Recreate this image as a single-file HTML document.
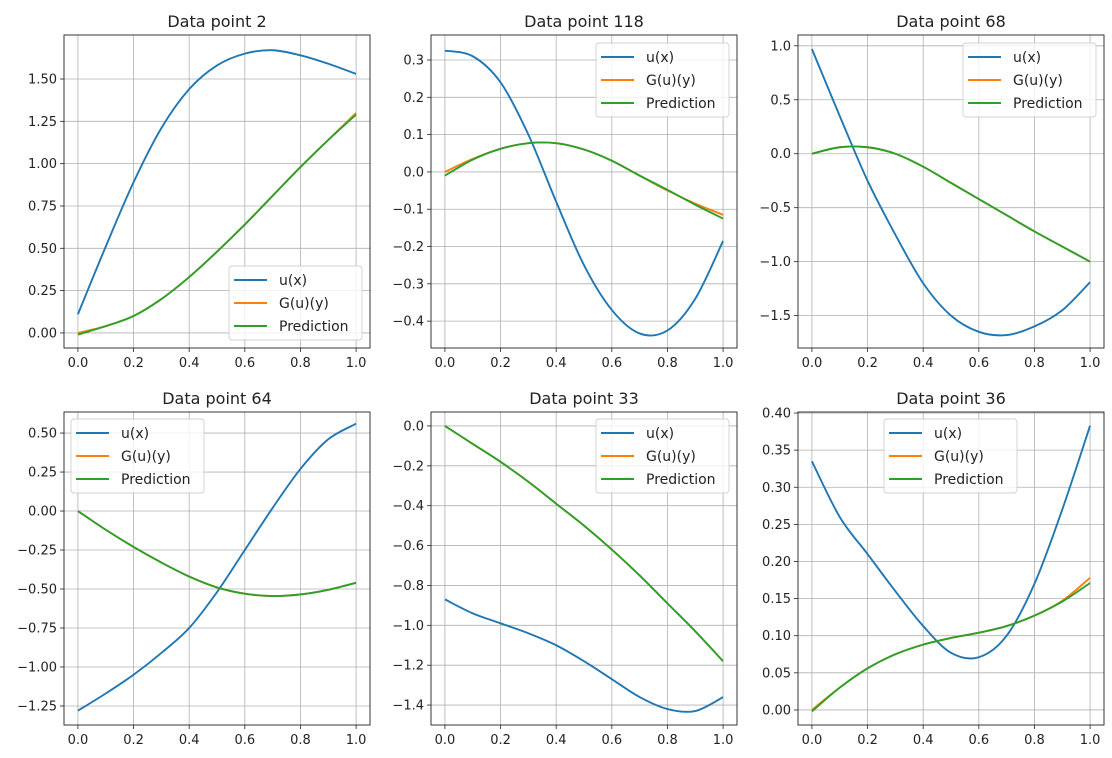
<!DOCTYPE html>
<html><head><meta charset="utf-8"><style>
html,body{margin:0;padding:0;background:#fff;}
svg{display:block;font-family:"DejaVu Sans","Liberation Sans",sans-serif;}
</style></head><body>
<svg id="fig" width="1112" height="758" viewBox="0 0 1112 758" xmlns="http://www.w3.org/2000/svg"></svg>
<script>
const xs = [0,0.1,0.2,0.3,0.4,0.5,0.6,0.7,0.8,0.9,1.0];
const titles = ["Data point 2","Data point 118","Data point 68","Data point 64","Data point 33","Data point 36"];
const uVals = [
 [0.11,0.51,0.89,1.21,1.44,1.58,1.65,1.67,1.64,1.59,1.53],
 [0.325,0.31,0.24,0.10,-0.08,-0.25,-0.37,-0.433,-0.425,-0.34,-0.185],
 [0.97,0.35,-0.25,-0.75,-1.2,-1.5,-1.65,-1.68,-1.6,-1.45,-1.19],
 [-1.28,-1.17,-1.05,-0.91,-0.75,-0.52,-0.25,0.02,0.27,0.46,0.56],
 [-0.87,-0.94,-0.99,-1.04,-1.10,-1.18,-1.27,-1.36,-1.42,-1.43,-1.36],
 [0.335,0.26,0.21,0.16,0.113,0.077,0.071,0.10,0.17,0.27,0.383]
];
const gVals = [
 [0.0,0.04,0.10,0.20,0.33,0.48,0.64,0.81,0.98,1.14,1.30],
 [0.0,0.035,0.062,0.077,0.077,0.06,0.03,-0.01,-0.05,-0.085,-0.115],
 [0.0,0.06,0.06,0.0,-0.12,-0.27,-0.42,-0.57,-0.72,-0.86,-1.0],
 [0.0,-0.12,-0.23,-0.33,-0.42,-0.49,-0.53,-0.545,-0.535,-0.505,-0.46],
 [0.0,-0.09,-0.18,-0.28,-0.39,-0.50,-0.62,-0.75,-0.89,-1.03,-1.18],
 [0.0,0.03,0.056,0.075,0.088,0.097,0.104,0.113,0.127,0.147,0.178]
];
const pVals = [
 [-0.01,0.04,0.10,0.20,0.33,0.48,0.64,0.81,0.98,1.14,1.29],
 [-0.01,0.033,0.062,0.077,0.077,0.06,0.03,-0.01,-0.048,-0.088,-0.125],
 [0.0,0.06,0.06,0.0,-0.12,-0.27,-0.42,-0.57,-0.72,-0.86,-1.0],
 [0.0,-0.12,-0.23,-0.33,-0.42,-0.49,-0.53,-0.545,-0.535,-0.505,-0.46],
 [0.0,-0.09,-0.18,-0.28,-0.39,-0.50,-0.62,-0.75,-0.89,-1.03,-1.18],
 [-0.002,0.03,0.056,0.075,0.088,0.097,0.104,0.113,0.127,0.146,0.171]
];
const yLims = [[-0.089,1.76],[-0.472,0.367],[-1.80,1.10],[-1.372,0.635],[-1.50,0.07],[-0.0203,0.4014]];
const yTicks = [
 [0,0.25,0.5,0.75,1.0,1.25,1.5],
 [-0.4,-0.3,-0.2,-0.1,0,0.1,0.2,0.3],
 [-1.5,-1.0,-0.5,0,0.5,1.0],
 [-1.25,-1.0,-0.75,-0.5,-0.25,0,0.25,0.5],
 [-1.4,-1.2,-1.0,-0.8,-0.6,-0.4,-0.2,0],
 [0,0.05,0.1,0.15,0.2,0.25,0.3,0.35,0.4]
];
const yDec = [2,1,1,2,1,2];
const xTicks = [0,0.2,0.4,0.6,0.8,1.0];
const legendPos = [[229,266],[596,43],[963,43],[71,419],[596,419],[884,419]];
const boxes = [[64,35],[431,35],[798,35],[64,412],[431,412],[798,412]];
const W = 306, H = 313;
const colors = ["#1f77b4","#ff7f0e","#2ca02c"];
const names = ["u(x)","G(u)(y)","Prediction"];
const NS = "http://www.w3.org/2000/svg";
const svg = document.getElementById('fig');
function mk(tag, attrs, parent){const e=document.createElementNS(NS,tag);for(const k in attrs)e.setAttribute(k,attrs[k]);(parent||svg).appendChild(e);return e;}
function fmt(v,d){let s=Math.abs(v).toFixed(d);return (v<-1e-9?"\u2212":"")+s;}
function pathFor(vals,sx,sy){
  const pts=xs.map((x,i)=>[sx(x),sy(vals[i])]);
  let d="M"+pts[0][0].toFixed(2)+","+pts[0][1].toFixed(2);
  for(let i=0;i<pts.length-1;i++){
    const p0=pts[Math.max(i-1,0)],p1=pts[i],p2=pts[i+1],p3=pts[Math.min(i+2,pts.length-1)];
    const c1=[p1[0]+(p2[0]-p0[0])/6,p1[1]+(p2[1]-p0[1])/6];
    const c2=[p2[0]-(p3[0]-p1[0])/6,p2[1]-(p3[1]-p1[1])/6];
    d+=" C"+c1.map(v=>v.toFixed(2)).join(",")+" "+c2.map(v=>v.toFixed(2)).join(",")+" "+p2.map(v=>v.toFixed(2)).join(",");
  }
  return d;
}
for(let p=0;p<6;p++){
  const [bx,by]=boxes[p];
  const g=mk('g',{});
  
  
  const [y0,y1]=yLims[p];
  const sx=x=>bx+(x+0.05)/1.1*W;
  const sy=y=>by+H-(y-y0)/(y1-y0)*H;
  const t=mk('text',{x:bx+W/2,y:by-8,'text-anchor':'middle','font-size':16,fill:'#222'},g);
  t.textContent=titles[p];
  
  
  for(const xv of xTicks){
    const X=sx(xv);
    mk('line',{x1:X,x2:X,y1:by,y2:by+H,stroke:'#b0b0b0','stroke-width':0.8},g);
    mk('line',{x1:X,x2:X,y1:by+H,y2:by+H+4,stroke:'#222','stroke-width':0.8},g);
    const tl=mk('text',{x:X,y:by+H+19,'text-anchor':'middle','font-size':13,fill:'#222'},g);
    tl.textContent=xv.toFixed(1);
    
    
  }
  for(const yv of yTicks[p]){
    const Y=sy(yv);
    mk('line',{x1:bx,x2:bx+W,y1:Y,y2:Y,stroke:'#b0b0b0','stroke-width':0.8},g);
    mk('line',{x1:bx-4,x2:bx,y1:Y,y2:Y,stroke:'#222','stroke-width':0.8},g);
    const tl=mk('text',{x:bx-7,y:Y+4.5,'text-anchor':'end','font-size':13,fill:'#222'},g);
    tl.textContent=fmt(yv,yDec[p]);
    
    
  }
  const series=[uVals[p],gVals[p],pVals[p]];
  const sn=['u-line','g-line','prediction-line'];
  for(let s=0;s<3;s++){
    const l=mk('path',{d:pathFor(series[s],sx,sy),fill:'none',stroke:colors[s],'stroke-width':1.9},g);
    
    
  }
  mk('rect',{x:bx,y:by,width:W,height:H,fill:'none',stroke:'#222','stroke-width':0.9},g);
  const [lx,ly]=legendPos[p];
  const lg=mk('g',{},g);
  
  
  mk('rect',{x:lx,y:ly,width:133,height:74,rx:3,fill:'#fff','fill-opacity':0.8,stroke:'#d0d0d0','stroke-width':0.9},lg);
  for(let s=0;s<3;s++){
    const ry=ly+14+s*23;
    mk('line',{x1:lx+5,x2:lx+38,y1:ry,y2:ry,stroke:colors[s],'stroke-width':1.9},lg);
    const lt=mk('text',{x:lx+50,y:ry+5,'font-size':14,fill:'#222'},lg);
    lt.textContent=names[s];
    
    
  }
}
</script>
</body></html>
